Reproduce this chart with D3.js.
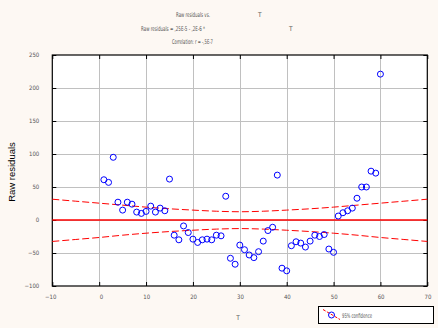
<!DOCTYPE html>
<html>
<head>
<meta charset="utf-8">
<script src="https://cdn.jsdelivr.net/npm/d3@7/dist/d3.min.js"></script>
<style>
  html, body { margin: 0; padding: 0; background: #fdf8f3; }
  svg { display: block; }
  .small { font-family: "Liberation Sans Narrow", "DejaVu Sans Condensed", "Liberation Sans", sans-serif; fill: #555; }
</style>
</head>
<body>
<svg id="chart" width="438" height="328"></svg>
<script>
// Observation index
const T = [1, 2, 3, 4, 5, 6, 7, 8, 9, 10,
           11, 12, 13, 14, 15, 16, 17, 18, 19, 20,
           21, 22, 23, 24, 25, 26, 27, 28, 29, 30,
           31, 32, 33, 34, 35, 36, 37, 38, 39, 40,
           41, 42, 43, 44, 45, 46, 47, 48, 49, 50,
           51, 52, 53, 54, 55, 56, 57, 58, 59, 60];

// Raw residuals for each T
const residuals = [61, 57, 95, 27, 15, 27, 24, 12, 10, 13,
                   21, 12, 18, 14, 62, -23, -30, -9, -19, -29,
                   -34, -30, -29, -30, -23, -24, 36, -58, -67, -38,
                   -45, -53, -57, -48, -32, -16, -11, 68, -73, -77,
                   -39, -33, -35, -41, -32, -23, -25, -22, -44, -49,
                   6, 11, 14, 18, 33, 50, 50, 74, 71, 221];

// 95% confidence band around the fitted line
const bandT = [-10, -5, 0, 5, 10, 15, 20, 25, 30, 35, 40, 45, 50, 55, 60, 65, 70];
const bandUpper = [31.5, 28.5, 25.5, 22.5, 19.5, 17, 15, 13.3, 12.5, 13.3, 15, 17, 19.5, 22.5, 25.5, 28.5, 31.5];
const bandLower = [-32.5, -29.5, -26.5, -23, -20, -17.5, -15.5, -13.8, -13, -13.8, -15.5, -17.5, -20, -23, -26.5, -29.5, -32.5];

// Fitted line (residual ~ 0)
const fitT = [-10, 70];
const fitValues = [0, 0];

const xTicks = [-10, 0, 10, 20, 30, 40, 50, 60, 70];
const yTicks = [-100, -50, 0, 50, 100, 150, 200, 250];

const svg = d3.select("#chart");
const L = 52.3, R = 427.3, TOP = 55, B = 286;

const x = d3.scaleLinear().domain([-10, 70]).range([L, R]);
const y = d3.scaleLinear().domain([-100, 250]).range([B, TOP]);

// plot area
svg.append("rect").attr("x", L).attr("y", TOP).attr("width", R - L).attr("height", B - TOP)
  .attr("fill", "#ffffff");

// grid
const grid = svg.append("g").attr("stroke", "#c0c0c0").attr("stroke-width", 1);
xTicks.slice(1, -1).forEach(t => {
  grid.append("line").attr("x1", Math.round(x(t)) + 0.5).attr("x2", Math.round(x(t)) + 0.5)
    .attr("y1", TOP).attr("y2", B);
});
yTicks.slice(1, -1).forEach(t => {
  grid.append("line").attr("y1", Math.round(y(t)) + 0.5).attr("y2", Math.round(y(t)) + 0.5)
    .attr("x1", L).attr("x2", R);
});

// axes with inward ticks
function styleAxis(g) {
  g.select(".domain").remove();
  g.selectAll(".tick line").attr("stroke", "#000");
  g.selectAll(".tick text").attr("class", "small").style("font-size", "6px").attr("fill", "#555");
}
svg.append("g").attr("transform", `translate(0,${B})`)
  .call(d3.axisBottom(x).tickValues(xTicks).tickSize(-4).tickPadding(9).tickFormat(d3.format("d")))
  .call(styleAxis)
  .call(g => g.selectAll(".tick text").attr("text-anchor", "end").attr("dx", "0.6em"));
svg.append("g").attr("transform", `translate(${L},0)`)
  .call(d3.axisLeft(y).tickValues(yTicks).tickSize(-4).tickPadding(13).tickFormat(d3.format("d")))
  .call(styleAxis);
svg.append("g").attr("transform", `translate(0,${TOP})`)
  .call(d3.axisTop(x).tickValues(xTicks).tickSize(-4).tickFormat(""))
  .call(styleAxis);
svg.append("g").attr("transform", `translate(${R},0)`)
  .call(d3.axisRight(y).tickValues(yTicks).tickSize(-4).tickFormat(""))
  .call(styleAxis);

// frame
svg.append("rect").attr("x", L).attr("y", TOP).attr("width", R - L).attr("height", B - TOP)
  .attr("fill", "none").attr("stroke", "#000").attr("stroke-width", 1.2);

// confidence band
const band = d3.line().x((d, i) => x(bandT[i])).y(d => y(d)).curve(d3.curveMonotoneX);
[bandUpper, bandLower].forEach(arr => {
  svg.append("path").attr("d", band(arr)).attr("fill", "none")
    .attr("stroke", "#ff0000").attr("stroke-width", 1).attr("stroke-dasharray", "7,3");
});

// fitted line
svg.append("line")
  .attr("x1", x(fitT[0])).attr("x2", x(fitT[1]))
  .attr("y1", y(fitValues[0])).attr("y2", y(fitValues[1]))
  .attr("stroke", "#ff0000").attr("stroke-width", 1.4);

// points
svg.append("g").selectAll("circle").data(residuals).join("circle")
  .attr("cx", (d, i) => x(T[i])).attr("cy", d => y(d)).attr("r", 3)
  .attr("fill", "none").attr("stroke", "#0000ff").attr("stroke-width", 1);

// titles
function txt(str, xx, yy, len, size, anchor) {
  const t = svg.append("text").attr("class", "small").attr("x", xx).attr("y", yy)
    .style("font-size", size + "px").text(str);
  if (len) t.attr("textLength", len).attr("lengthAdjust", "spacingAndGlyphs");
  if (anchor) t.attr("text-anchor", anchor);
  return t;
}
txt("Raw residuals vs.", 176, 16.5, 34, 6.5);
txt("T", 258, 16.5, null, 6.5);
txt("Raw residuals = ,25E-5 - ,2E-6 *", 141, 30.5, 64, 6.5);
txt("T", 289, 30.5, null, 6.5);
txt("Correlation: r = -,5E-7", 172, 43.5, 41, 6.5);

// axis titles
txt("T", 238, 320, null, 6.5, "middle");
svg.append("text")
  .attr("transform", "translate(15,172) rotate(-90)")
  .attr("text-anchor", "middle")
  .style("font-family", "'Liberation Sans', Arial, sans-serif")
  .style("font-size", "9.5px").attr("fill", "#000")
  .text("Raw residuals");

// legend
const lg = svg.append("g");
lg.append("rect").attr("x", 318.5).attr("y", 306.5).attr("width", 115).attr("height", 17)
  .attr("fill", "#ffffff").attr("stroke", "#000").attr("stroke-width", 1);
lg.append("line").attr("x1", 323).attr("y1", 309.5).attr("x2", 340).attr("y2", 319.5)
  .attr("stroke", "#ff0000").attr("stroke-width", 1).attr("stroke-dasharray", "3,1.5");
lg.append("circle").attr("cx", 331.5).attr("cy", 315).attr("r", 3)
  .attr("fill", "none").attr("stroke", "#0000ff").attr("stroke-width", 1);
txt("95% confidence", 342, 317.5, 30, 6.5);
</script>
</body>
</html>
